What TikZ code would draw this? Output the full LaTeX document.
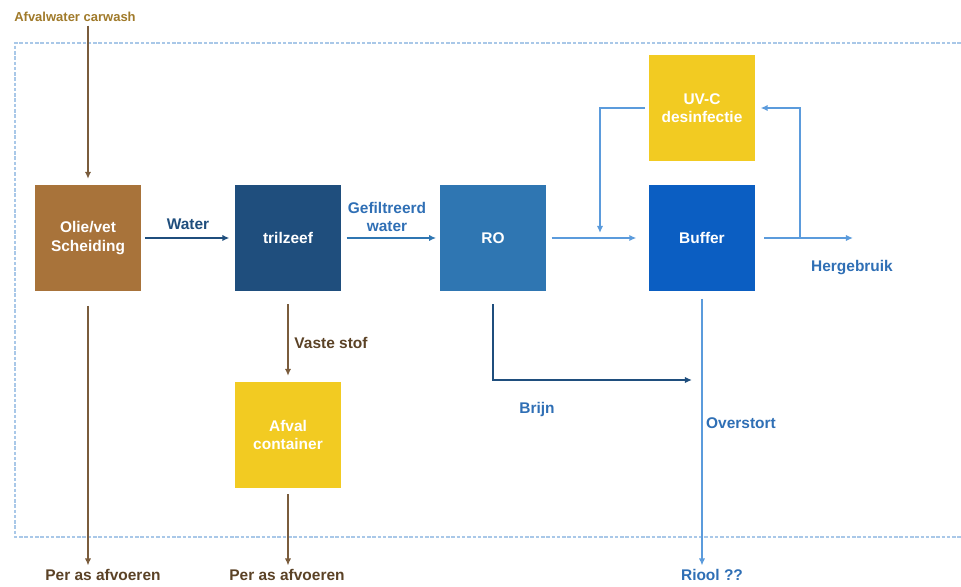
\documentclass[tikz,border=0pt]{standalone}
\usepackage{fontspec}
\setmainfont{Liberation Sans}
\usetikzlibrary{arrows.meta}

% colours of the boxes and lines
\definecolor{oilbrown}{HTML}{A8733A}
\definecolor{linebrown}{HTML}{7A5C3C}
\definecolor{textbrown}{HTML}{5B4226}
\definecolor{goldbrown}{HTML}{A07A2A}
\definecolor{navyblue}{HTML}{1F4E7D}
\definecolor{roblue}{HTML}{2F76B2}
\definecolor{bufblue}{HTML}{0B5EC2}
\definecolor{skyblue}{HTML}{5B9BDC}
\definecolor{lblblue}{HTML}{2F6FB5}
\definecolor{uvyellow}{HTML}{F2CB22}
\definecolor{framblue}{HTML}{A9C8E8}

\tikzset{
  unitbox/.style={minimum width=2.12cm, minimum height=2.14cm, inner sep=0pt,
    text=white, align=center, font=\bfseries\fontsize{8.8}{10.5}\selectfont},
  flow/.style={-{Latex[length=4pt,width=3.6pt]}, line width=0.8pt},
  lbl/.style={font=\bfseries\fontsize{8.8}{10.5}\selectfont, align=center, inner sep=2pt},
}

\begin{document}
\begin{tikzpicture}[x=0.02cm, y=-0.02cm]

  % Page size in pixels of the original
  \useasboundingbox (0,0) rectangle (961,587);

  % Dashed frame round the installation
  \draw[framblue, line width=0.8pt, dash pattern=on 2pt off 1pt]
    (961,43) -- (15,43) -- (15,537) -- (961,537);

  % Process units
  \node[unitbox, fill=oilbrown] (oil) at (88,238) {Olie/vet\\Scheiding};
  \node[unitbox, fill=navyblue] (zeef) at (288,238) {trilzeef};
  \node[unitbox, fill=uvyellow] (afval) at (288,435) {Afval\\container};
  \node[unitbox, fill=roblue] (ro) at (493,238) {RO};
  \node[unitbox, fill=bufblue] (buffer) at (702,238) {Buffer};
  \node[unitbox, fill=uvyellow] (uvc) at (702,108) {UV-C\\desinfectie};

  % Texts at the ends of the lines
  \node[lbl, text=goldbrown, font=\bfseries\fontsize{7.4}{9}\selectfont] (carwash) at (75,17) {Afvalwater carwash};
  \node[lbl, text=textbrown] (afvoer1) at (103,575) {Per as afvoeren};
  \node[lbl, text=textbrown] (afvoer2) at (287,575) {Per as afvoeren};
  \node[lbl, text=lblblue] (riool) at (712,575) {Riool ??};

  % Labels along the lines
  \node[lbl, text=navyblue] (lwater) at (188,224) {Water};
  \node[lbl, text=lblblue] (lfilt) at (387,217) {Gefiltreerd\\water};
  \node[lbl, text=textbrown] (lvast) at (331,343) {Vaste stof};
  \node[lbl, text=lblblue] (lreuse) at (852,268) {Hergebruik};
  \node[lbl, text=lblblue] (lbrijn) at (537,410) {Brijn};
  \node[lbl, text=lblblue] (lover) at (741,423) {Overstort};

  % Free ends of the lines
  \coordinate (loopL) at (600,233);
  \coordinate (loopR) at (800,238);
  \coordinate (reuse) at (853,238);
  \coordinate (brine) at (692,380);

  % Brown lines: oil and solids
  \draw[flow, linebrown] (oil.north |- carwash.south) -- ([yshift=3pt]oil.north);
  \draw[flow, linebrown, shorten <=8pt] (oil.south) -- (oil.south |- afvoer1.north);
  \draw[flow, linebrown, shorten <=7pt, shorten >=3pt] (zeef.south) -- (afval.north);
  \draw[flow, linebrown, shorten <=3pt] (afval.south) -- (afval.south |- afvoer2.north);

  % Water line
  \draw[flow, navyblue, shorten <=2pt, shorten >=3pt] (oil.east) -- (zeef.west);
  \draw[flow, roblue, shorten <=3pt, shorten >=2pt] (zeef.east) -- (ro.west);
  \draw[flow, skyblue, shorten <=3pt, shorten >=7pt] (ro.east) -- (buffer.west);

  % UV-C loop
  \draw[flow, skyblue, shorten <=2pt] (uvc.west) -| (loopL);
  \draw[flow, skyblue, shorten >=3pt] (loopR) |- (uvc.east);

  % Outlets
  \draw[flow, skyblue, shorten <=5pt] (buffer.east) -- (reuse);
  \draw[flow, navyblue, shorten <=7pt] (ro.south) |- (brine);
  \draw[flow, skyblue, shorten <=4pt] (buffer.south) -- (buffer.south |- riool.north);

\end{tikzpicture}
\end{document}
